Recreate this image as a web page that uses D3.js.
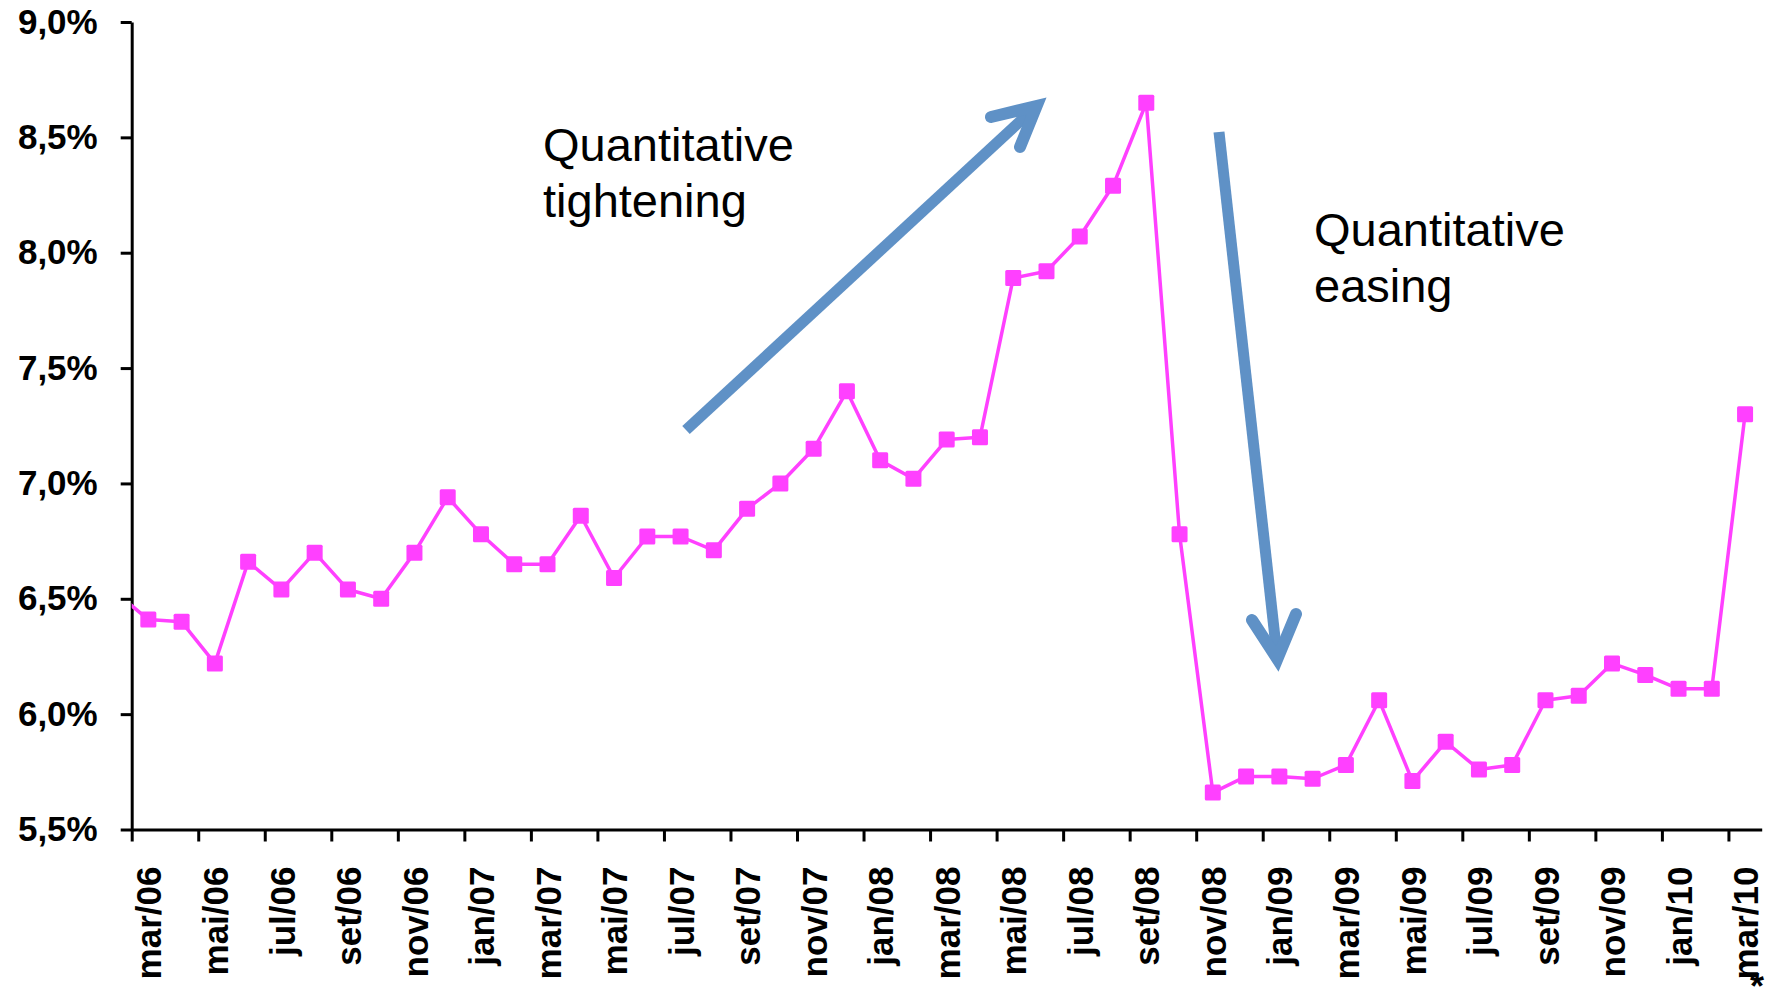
<!DOCTYPE html>
<html>
<head>
<meta charset="utf-8">
<script src="https://cdn.jsdelivr.net/npm/d3@7"></script>
<style>
  html, body { margin: 0; padding: 0; background: #ffffff; }
  svg { display: block; }
  text { font-family: "Liberation Sans", Arial, Helvetica, sans-serif; }
</style>
</head>
<body>
<svg id="chart" width="1776" height="988"></svg>
<script>
// Monthly categories, mar/06 .. mar/10
const months = ["mar/06","abr/06","mai/06","jun/06","jul/06","ago/06","set/06","out/06","nov/06","dez/06",
  "jan/07","fev/07","mar/07","abr/07","mai/07","jun/07","jul/07","ago/07","set/07","out/07","nov/07","dez/07",
  "jan/08","fev/08","mar/08","abr/08","mai/08","jun/08","jul/08","ago/08","set/08","out/08","nov/08","dez/08",
  "jan/09","fev/09","mar/09","abr/09","mai/09","jun/09","jul/09","ago/09","set/09","out/09","nov/09","dez/09",
  "jan/10","fev/10","mar/10"];

// Rate (%) for each month
const rates = [6.41, 6.40, 6.22, 6.66, 6.54, 6.70, 6.54, 6.50, 6.70, 6.94,
  6.78, 6.65, 6.65, 6.86, 6.59, 6.77, 6.77, 6.71, 6.89, 7.00, 7.15, 7.40,
  7.10, 7.02, 7.19, 7.20, 7.89, 7.92, 8.07, 8.29, 8.65, 6.78, 5.66, 5.73,
  5.73, 5.72, 5.78, 6.06, 5.71, 5.88, 5.76, 5.78, 6.06, 6.08, 6.22, 6.17,
  6.11, 6.11, 7.30];

// Previous month (fev/06), only its segment into the plot is visible
const priorRate = 6.53;

// Axis ticks
const yTicks = [5.5, 6.0, 6.5, 7.0, 7.5, 8.0, 8.5, 9.0];

const annotations = [
  { lines: ["Quantitative", "tightening"], x: 543, y: 161 },
  { lines: ["Quantitative", "easing"], x: 1314, y: 246 }
];

const LINE_COLOR = "#ff40ff";
const ARROW_COLOR = "#5f91c6";

const svg = d3.select("#chart");
const plotLeft = 131.7, plotRight = 1761.7, plotTop = 22, plotBottom = 829.5;

// Index-based x scale: category i sits at the centre of its slot
const x = d3.scaleLinear().domain([-0.5, months.length - 0.5]).range([plotLeft, plotRight]);
const y = d3.scaleLinear().domain([5.5, 9.0]).range([plotBottom, plotTop]);

// Clip region for the series
svg.append("defs").append("clipPath").attr("id", "plotClip")
  .append("rect").attr("x", plotLeft).attr("y", 0)
  .attr("width", plotRight - plotLeft + 20).attr("height", plotBottom + 10);

// Y axis
const yAxis = svg.append("g")
  .attr("transform", `translate(${plotLeft},0)`)
  .call(d3.axisLeft(y).tickValues(yTicks).tickSize(11).tickSizeOuter(0).tickPadding(23)
    .tickFormat(d => d.toFixed(1).replace(".", ",") + "%"));
yAxis.selectAll("path.domain").attr("stroke", "#000").attr("stroke-width", 3);
yAxis.selectAll(".tick line").attr("stroke", "#000").attr("stroke-width", 3);
yAxis.selectAll(".tick text")
  .attr("fill", "#000").style("font-size", "35px").style("font-weight", "bold")
  .style("font-family", "'Liberation Sans', Arial, sans-serif");

// X axis: tick marks at every other category boundary
const boundaryTicks = d3.range(0, months.length, 2).map(i => i - 0.5);
const xAxis = svg.append("g")
  .attr("transform", `translate(0,${plotBottom})`)
  .call(d3.axisBottom(x).tickValues(boundaryTicks).tickSize(12).tickSizeOuter(0).tickFormat(""));
xAxis.select("path.domain").attr("stroke", "#000").attr("stroke-width", 3);
xAxis.selectAll(".tick line").attr("stroke", "#000").attr("stroke-width", 3);

// X labels centred on their month, rotated
const labelIdx = d3.range(0, months.length, 2);
const xLabels = svg.append("g")
  .attr("transform", `translate(0,${plotBottom})`)
  .call(d3.axisBottom(x).tickValues(labelIdx).tickSize(0)
    .tickFormat(i => months[i]));
xLabels.select("path.domain").remove();
xLabels.selectAll(".tick text")
  .attr("transform", "rotate(-90)")
  .attr("text-anchor", "end")
  .attr("x", -37)
  .attr("y", 0)
  .attr("dy", "0.36em")
  .attr("fill", "#000")
  .style("font-size", "35px").style("font-weight", "bold")
  .style("font-family", "'Liberation Sans', Arial, sans-serif");

// Footnote marker below the last label
svg.append("text")
  .attr("x", 1757).attr("y", 999)
  .attr("text-anchor", "middle")
  .style("font-size", "36px").style("font-weight", "bold")
  .text("*");

// Series line
const pts = [{ i: -1, v: priorRate }].concat(rates.map((v, i) => ({ i, v })));
const line = d3.line().x(d => x(d.i)).y(d => y(d.v));
svg.append("path")
  .datum(pts)
  .attr("clip-path", "url(#plotClip)")
  .attr("d", line)
  .attr("fill", "none")
  .attr("stroke", LINE_COLOR)
  .attr("stroke-width", 3.5)
  .attr("stroke-linejoin", "round");

// Square markers
const ms = 16;
svg.append("g").selectAll("rect")
  .data(rates)
  .join("rect")
  .attr("x", (d, i) => x(i) - ms / 2)
  .attr("y", d => y(d) - ms / 2)
  .attr("width", ms).attr("height", ms)
  .attr("rx", 1.5)
  .attr("fill", LINE_COLOR);

// Annotation text
annotations.forEach(a => {
  const t = svg.append("text")
    .attr("x", a.x).attr("y", a.y)
    .attr("fill", "#000")
    .style("font-size", "47px");
  a.lines.forEach((s, k) => {
    t.append("tspan").attr("x", a.x).attr("dy", k === 0 ? 0 : 56).text(s);
  });
});

// Trend arrows
function arrow(x0, y0, x1, y1, w1, w2) {
  const g = svg.append("g");
  const dx = x1 - x0, dy = y1 - y0, len = Math.hypot(dx, dy);
  const sx = x1 - dx / len * 12, sy = y1 - dy / len * 12;
  g.append("line")
    .attr("x1", x0).attr("y1", y0).attr("x2", sx).attr("y2", sy)
    .attr("stroke", ARROW_COLOR).attr("stroke-width", 11);
  g.append("path")
    .attr("d", `M${w1[0]},${w1[1]} L${x1 - dx / len * 6},${y1 - dy / len * 6} L${w2[0]},${w2[1]}`)
    .attr("fill", "none")
    .attr("stroke", ARROW_COLOR).attr("stroke-width", 12)
    .attr("stroke-linecap", "round").attr("stroke-linejoin", "miter").attr("stroke-miterlimit", 10);
}
arrow(686, 430, 1041, 102, [991, 117], [1020, 147]);
arrow(1219, 132, 1278, 665, [1252, 620], [1296, 614]);
</script>
</body>
</html>
